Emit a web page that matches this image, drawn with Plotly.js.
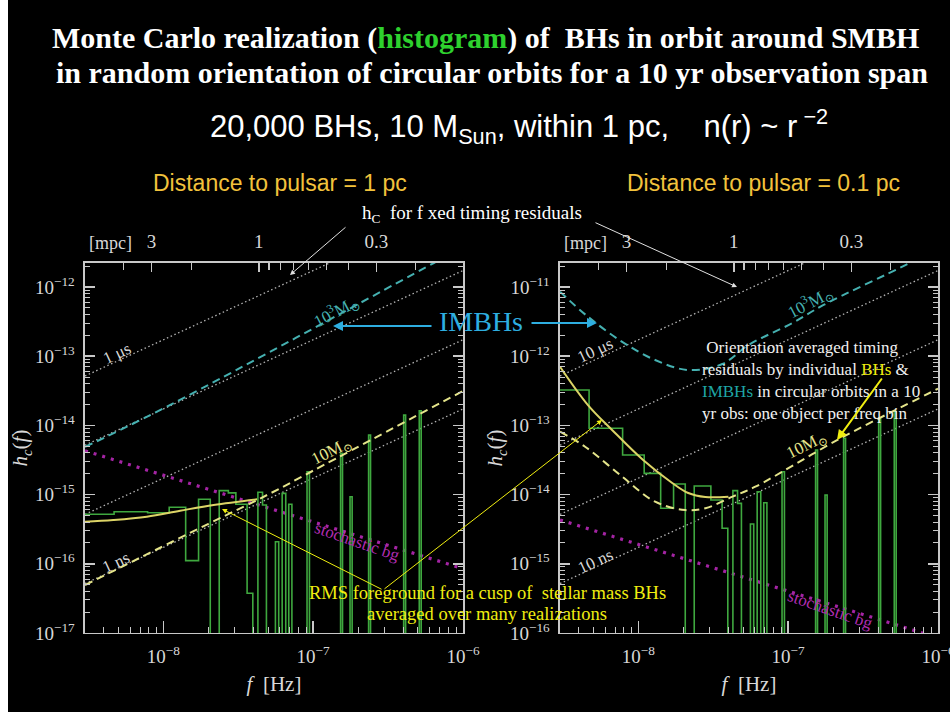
<!DOCTYPE html>
<html><head><meta charset="utf-8">
<script src="https://cdn.plot.ly/plotly-3.0.1.min.js"></script>
<style>html,body{margin:0;padding:0;background:#000;}#chart{width:950px;height:712px;}</style>
</head><body><div id="chart"></div>
<script>
// ---------- data ----------
// histogram bin edges (Hz), shared by both panels
const binEdges = [3.00e-9, 4.69e-9, 7.85e-9, 1.094e-8, 1.409e-8, 1.718e-8, 2.056e-8, 2.36e-8, 2.716e-8, 3.048e-8,
  3.622e-8, 3.954e-8, 4.276e-8, 4.592e-8, 4.875e-8, 5.598e-8, 5.888e-8, 6.209e-8, 6.561e-8, 6.871e-8,
  7.211e-8, 9.099e-8, 9.441e-8, 1.524e-7, 1.570e-7, 1.762e-7, 1.820e-7, 2.344e-7, 2.415e-7, 4.018e-7,
  4.140e-7, 5.105e-7, 5.260e-7, 1.0e-6];
// histogram h_c per bin (0 = empty bin)
const histLeft = [5.19e-16, 5.66e-16, 5.47e-16, 6.55e-16, 1.11e-16, 8.55e-16, 0, 1.14e-15, 1.06e-15, 7.24e-16,
  3.75e-17, 0, 1.08e-15, 7.08e-16, 0, 2.08e-16, 0, 1.04e-15, 0, 7.24e-16,
  0, 2.14e-15, 0, 3.95e-15, 0, 9.33e-16, 0, 7.26e-15, 0, 1.41e-14, 0, 1.63e-14, 0];
const histRight = [3.25e-13, 9.08e-14, 3.73e-14, 2.03e-14, 6.34e-15, 1.42e-14, 0, 1.33e-14, 1.33e-14, 8.36e-15,
  3.26e-15, 0, 1.14e-14, 7.48e-15, 0, 3.76e-15, 0, 1.10e-14, 0, 7.62e-15,
  0, 2.14e-14, 0, 4.42e-14, 0, 9.86e-15, 0, 6.52e-14, 0, 1.27e-13, 0, 1.58e-13, 0];

// fixed timing-residual lines: end points at f = 3e-9 Hz and f = 1e-6 Hz
const resLabels = ['10 μs', '1 μs', '100 ns', '10 ns', '1 ns'];
const resLineF = [3.0e-9, 1.0e-6];
const resHStart = [5.18e-13, 5.18e-14, 5.18e-15, 5.18e-16, 5.18e-17];
const resHEnd = [1.73e-10, 1.73e-11, 1.73e-12, 1.73e-13, 1.73e-14];
const resLeftIdx = [1, 2, 3, 4];
const resRightIdx = [0, 1, 2, 3];

// stochastic background
const bgF = [3.0e-9, 1.0e-6];
const bgH = [4.3e-15, 8.5e-17];

// left panel (1 pc) curves
const imbhLeftF = [3.0e-9, 1.164e-8, 6.38e-7, 1.0e-6];
const imbhLeftH = [4.88e-15, 2.08e-14, 2.22e-12, 3.74e-12];
const bhLeftF = [3.0e-9, 2.0e-8, 5.19e-8, 1.0e-7, 1.0e-6];
const bhLeftH = [4.94e-17, 3.78e-16, 1.045e-15, 2.22e-15, 3.14e-14];
const rmsLeftF = [3.0e-9, 4.63e-9, 7.76e-9, 1.294e-8, 2.163e-8, 4.22e-8];
const rmsLeftH = [4.06e-16, 4.30e-16, 4.80e-16, 5.85e-16, 7.08e-16, 8.55e-16];

// right panel (0.1 pc) curves
const imbhRightF = [3.0e-9, 4.61e-9, 7.80e-9, 1.294e-8, 2.153e-8, 3.631e-8, 5.43e-8, 1.069e-7, 1.722e-7, 6.28e-7, 1.0e-6];
const imbhRightH = [8.55e-12, 3.72e-12, 1.614e-12, 8.81e-13, 6.32e-13, 7.71e-13, 1.452e-12, 3.02e-12, 5.50e-12, 2.15e-11, 3.66e-11];
const bhRightF = [3.0e-9, 4.41e-9, 7.80e-9, 1.294e-8, 2.056e-8, 2.80e-8, 4.25e-8, 6.04e-8, 2.239e-7, 9.40e-7, 1.0e-6];
const bhRightH = [8.11e-14, 4.92e-14, 1.816e-14, 7.89e-15, 5.98e-15, 6.34e-15, 9.33e-15, 1.30e-14, 6.52e-14, 3.17e-13, 3.4e-13];
const rmsRightF = [3.0e-9, 4.61e-9, 6.68e-9, 1.076e-8, 1.683e-8, 2.153e-8, 2.80e-8, 3.99e-8];
const rmsRightH = [7.05e-13, 1.97e-13, 8.59e-14, 3.16e-14, 1.472e-14, 1.054e-14, 9.23e-15, 9.33e-15];

// axis tick values / labels
const xTickExp = [-8, -7, -6];
const yTickExpLeft = [-17, -16, -15, -14, -13, -12];
const yTickExpRight = [-16, -15, -14, -13, -12, -11];

// top axis: orbital radius [mpc]; f at r = 1 mpc
const fAt1mpc = 4.335e-8;
const rMajor = [3, 1, 0.3];
const rMajorText = ['3', '1', '0.3'];
const rMinor = [4, 2, 0.9, 0.8, 0.7, 0.6, 0.5, 0.4, 0.2];

// ---------- styling ----------
const SERIF = 'Liberation Serif, Times New Roman, DejaVu Serif, serif';
const SANS = 'Liberation Sans, Arial, sans-serif';
const AX = '#c8c8c8', TXT = '#d8d8d8';
const C_DOT = '#b4b4b4', C_CYAN = '#45b0b0', C_YD = '#e4e48a', C_YS = '#dcd466', C_MAG = '#a424a4', C_GREEN = '#3fa83f';
const EMPTY = 1e-22;

function rToF(r) { return fAt1mpc * Math.pow(r, -1.5); }
function logMinor(d0, d1) { const v = []; for (let d = d0; d <= d1; d++) for (let m = 2; m <= 9; m++) v.push(m * Math.pow(10, d)); return v; }
const powLabel = e => '10<sup>−' + Math.abs(e) + '</sup>';

const traces = [];
function addPanel(xa, ya, resIdx, hist, imbhF, imbhH, bhF, bhH, rmsF, rmsH) {
  resIdx.forEach(i => traces.push({x: resLineF, y: [resHStart[i], resHEnd[i]], xaxis: xa, yaxis: ya, mode: 'lines',
    name: resLabels[i], line: {color: C_DOT, width: 1.3, dash: '1.5px,2.6px'}, hoverinfo: 'skip', showlegend: false}));
  traces.push({x: bgF, y: bgH, xaxis: xa, yaxis: ya, mode: 'lines', name: 'stochastic bg',
    line: {color: C_MAG, width: 3.2, dash: '3px,6px'}, showlegend: false});
  traces.push({x: imbhF, y: imbhH, xaxis: xa, yaxis: ya, mode: 'lines', line: {shape: 'spline', color: C_CYAN, width: 2, dash: '8px,5px'}, name: '10³ M⊙', showlegend: false});
  const hy = hist.map(v => v > 0 ? v : EMPTY); hy.push(hy[hy.length - 1]);
  traces.push({x: binEdges, y: hy, xaxis: xa, yaxis: ya, mode: 'lines', line: {shape: 'hv', color: C_GREEN, width: 1.6}, name: 'histogram', showlegend: false});
  traces.push({x: bhF, y: bhH, xaxis: xa, yaxis: ya, mode: 'lines', line: {shape: 'spline', color: C_YD, width: 2, dash: '8px,5px'}, name: '10 M⊙', showlegend: false});
  traces.push({x: rmsF, y: rmsH, xaxis: xa, yaxis: ya, mode: 'lines', line: {shape: 'spline', color: C_YS, width: 2}, name: 'RMS foreground', showlegend: false});
}
addPanel('x', 'y', resLeftIdx, histLeft, imbhLeftF, imbhLeftH, bhLeftF, bhLeftH, rmsLeftF, rmsLeftH);
addPanel('x2', 'y2', resRightIdx, histRight, imbhRightF, imbhRightH, bhRightF, bhRightH, rmsRightF, rmsRightH);
// anchor traces for the top (radius) axes
traces.push({x: [1e-8], y: [EMPTY], xaxis: 'x3', yaxis: 'y', mode: 'markers', marker: {opacity: 0}, hoverinfo: 'skip', showlegend: false});
traces.push({x: [1e-8], y: [EMPTY], xaxis: 'x4', yaxis: 'y2', mode: 'markers', marker: {opacity: 0}, hoverinfo: 'skip', showlegend: false});

const tickFont = {family: SERIF, size: 19, color: TXT};
const xMinor = {tickmode: 'array', tickvals: logMinor(-9, -7), ticks: 'inside', ticklen: 6, tickwidth: 1, tickcolor: AX, showgrid: false};
const yMinor = {tickmode: 'array', tickvals: logMinor(-18, -10), ticks: 'inside', ticklen: 5, tickwidth: 1, tickcolor: AX, showgrid: false};
function bottomX(dom, anchor) {
  return {domain: dom, anchor: anchor, type: 'log', range: [-8.523, -6],
    tickmode: 'array', tickvals: xTickExp.map(e => Math.pow(10, e)), ticktext: xTickExp.map(powLabel), ticklabeloverflow: 'allow',
    showline: true, linecolor: AX, linewidth: 1.5, ticks: 'inside', ticklen: 12, tickwidth: 1.5, tickcolor: AX,
    minor: xMinor, showgrid: false, zeroline: false, tickfont: tickFont, ticklabelstandoff: 6,
    title: {text: '<i>f</i>  [Hz]', font: {family: SERIF, size: 21, color: TXT}, standoff: 10}};
}
function leftY(range, anchor, exps) {
  return {domain: [0.11096, 0.63062], anchor: anchor, type: 'log', range: range,
    tickmode: 'array', tickvals: exps.map(e => Math.pow(10, e)), ticktext: exps.map(powLabel),
    showline: true, linecolor: AX, linewidth: 1.5, mirror: 'ticks', ticks: 'inside', ticklen: 10, tickwidth: 1.5, tickcolor: AX,
    minor: yMinor, showgrid: false, zeroline: false, tickfont: tickFont, ticklabelstandoff: 5,
    title: {text: '<i>h<sub>c</sub></i>(<i>f</i>)', font: {family: SERIF, size: 21, color: TXT}, standoff: 0}};
}
function topX(over, anchor) {
  return {overlaying: over, side: 'top', anchor: anchor, type: 'log', range: [-8.523, -6],
    tickmode: 'array', tickvals: rMajor.map(rToF), ticktext: rMajorText, ticks: 'inside', ticklen: 9, tickwidth: 1.5, tickcolor: AX,
    minor: {tickmode: 'array', tickvals: rMinor.map(rToF), ticks: 'inside', ticklen: 7, tickwidth: 1.2, tickcolor: AX, showgrid: false},
    showline: true, linecolor: AX, linewidth: 1.5, showgrid: false, zeroline: false, tickfont: tickFont, ticklabelstandoff: 6};
}

const W = 950, H = 712;
const px = v => v / W, py = v => 1 - v / H;
function txt(x, y, text, size, color, opts) {
  return Object.assign({xref: 'paper', yref: 'paper', x: px(x), y: py(y), text: text, showarrow: false,
    font: {family: SERIF, size: size, color: color}, xanchor: 'center', yanchor: 'middle'}, opts || {});
}
function arrow(tipX, tipY, tailX, tailY, color, width, head) {
  return {xref: 'paper', yref: 'paper', x: px(tipX), y: py(tipY), ax: tailX - tipX, ay: tailY - tipY, axref: 'pixel', ayref: 'pixel',
    text: '', showarrow: true, arrowcolor: color, arrowwidth: width, arrowhead: head, arrowsize: 1};
}
const YEL = '#f0ee10', ORANGE = '#f2c23c', IMBH = '#2eaee0';
const titleFont = {family: SERIF, size: 30, color: '#ffffff', weight: 700};
const annotations = [
  txt(486, 38, 'Monte Carlo realization (<span style="color:#2ed12e">histogram</span>) of  BHs in orbit around SMBH', 30, '#ffffff', {font: titleFont}),
  txt(492, 73, 'in random orientation of circular orbits for a 10 yr observation span', 30, '#ffffff', {font: titleFont}),
  txt(519, 127, '20,000 BHs, 10 M<sub>Sun</sub>, within 1 pc,    n(r) ~ r<sup> −2</sup>', 31, '#ffffff', {font: {family: SANS, size: 31, color: '#ffffff'}}),
  txt(280, 183, 'Distance to pulsar = 1 pc', 23, ORANGE, {font: {family: SANS, size: 23, color: ORANGE}}),
  txt(763, 183, 'Distance to pulsar = 0.1 pc', 23, ORANGE, {font: {family: SANS, size: 23, color: ORANGE}}),
  txt(472, 214, 'h<sub>C</sub>  for f xed timing residuals', 19, '#ffffff'),
  txt(481, 321, 'IMBHs', 28, IMBH),
  txt(700, 380, ' Orientation averaged timing<br>residuals by individual <span style="color:#f0ee10">BHs</span> &amp;<br><span style="color:#1fa5a5">IMBHs</span> in circular orbits in a 10<br>yr obs: one object per freq bin', 17, '#f0f0f0', {xanchor: 'left', align: 'left'}),
  txt(487, 593, 'RMS foreground for a cusp of  stellar mass BHs', 18.5, YEL),
  txt(487, 614, 'averaged over many realizations', 18.5, YEL),
  txt(110, 243, '[mpc]', 18, TXT), txt(585, 243, '[mpc]', 18, TXT),
  // in-plot labels, left
  txt(117, 354, '1 μs', 17, TXT, {textangle: -25}),
  txt(116, 562, '1 ns', 17, TXT, {textangle: -25}),
  txt(336, 311, '10<sup>3</sup>M<sub>⊙</sub>', 17, C_CYAN, {textangle: -28}),
  txt(332, 452, '10M<sub>⊙</sub>', 17, C_YD, {textangle: -27}),
  txt(357, 541, 'stochastic bg', 17, '#b02cb0', {textangle: 19}),
  // in-plot labels, right
  txt(595, 351, '10 μs', 17, TXT, {textangle: -25}),
  txt(595, 561, '10 ns', 17, TXT, {textangle: -25}),
  txt(810, 302, '10<sup>3</sup>M<sub>⊙</sub>', 17, C_CYAN, {textangle: -28}),
  txt(807, 446, '10M<sub>⊙</sub>', 17, C_YD, {textangle: -27}),
  txt(830, 609, 'stochastic bg', 17, '#b02cb0', {textangle: 19}),
  // arrows
  arrow(290, 275, 347, 226, '#e0e0e0', 1, 2),
  arrow(737, 287, 594, 222, '#e0e0e0', 1, 2),
  arrow(333, 326, 433, 326, IMBH, 2, 2),
  arrow(597, 323, 530, 323, IMBH, 2, 2),
  arrow(837, 440, 883, 377, YEL, 2, 2),
  arrow(222, 509, 383, 590, YEL, 1, 2),
  arrow(602, 420, 383, 590, YEL, 1, 2)
];

const layout = {
  width: W, height: H, margin: {l: 0, r: 0, t: 0, b: 0},
  paper_bgcolor: '#000000', plot_bgcolor: '#000000', showlegend: false,
  xaxis: bottomX([0.08947, 0.48737], 'y'),
  yaxis: leftY([-17, -11.653], 'x', yTickExpLeft),
  xaxis2: bottomX([0.58947, 0.98737], 'y2'),
  yaxis2: leftY([-16, -10.653], 'x2', yTickExpRight),
  xaxis3: topX('x', 'y'),
  xaxis4: topX('x2', 'y2'),
  shapes: [{type: 'rect', xref: 'paper', yref: 'paper', x0: 0, x1: 8 / W, y0: 0, y1: 1, fillcolor: '#ffffff', line: {width: 0}, layer: 'above'}],
  annotations: annotations
};
Plotly.newPlot('chart', traces, layout, {staticPlot: true, displayModeBar: false});
</script></body></html>
